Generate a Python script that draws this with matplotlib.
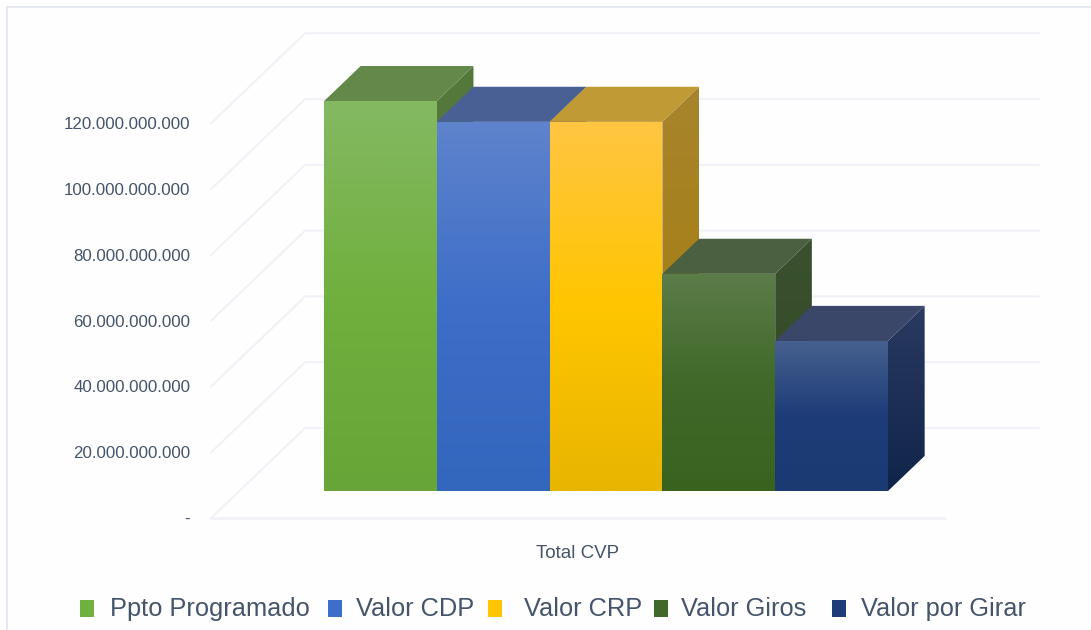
# -*- coding: utf-8 -*-
"""
Total CVP budget execution, drawn as a pseudo 3D column chart.
"""

# --IMPORTS---
import numpy as np
import matplotlib
matplotlib.use('Agg')
import matplotlib.pyplot as plt
from matplotlib.colors import LinearSegmentedColormap
from matplotlib.patches import Polygon, Rectangle

# --DATA---
categories = ['Ppto Programado', 'Valor CDP', 'Valor CRP', 'Valor Giros', 'Valor por Girar']
values = [118.5e9, 112.2e9, 112.2e9, 66.0e9, 45.6e9]
ticks = [0, 20e9, 40e9, 60e9, 80e9, 100e9, 120e9]
tickLabels = ['-', '20.000.000.000', '40.000.000.000', '60.000.000.000',
              '80.000.000.000', '100.000.000.000', '120.000.000.000']
groupLabel = 'Total CVP'

# --CONSTANTS---
W, H = 1091, 630
SLOT_PX = 112.8         # Bar width
UNIT_PX = 3.29 / 1e9    # Pixels per peso
X0_PX, Y0_PX = 324, 491 # Front bottom left bar corner
DX = 94 / SLOT_PX       # Full depth of the chart box, in x units
DY = 90 / UNIT_PX       # Full depth of the chart box, in y units
BAR_DEPTH = 0.39
WALL_LEFT, WALL_RIGHT = -0.75, 5.75
FRONT, BACK = -0.3, 0.7

GRID = '#F0F2F7'
TEXT = '#44546A'
FONT = ['Liberation Sans', 'DejaVu Sans']

# (front top, front middle, front bottom, top face, side top, side bottom)
faces = [
    ('#84B962', '#70B03E', '#68A538', '#63894A', '#55793D', '#4F7233'),
    ('#5F83CC', '#3D6EC8', '#3366BD', '#486093', '#3F5585', '#2B4C8A'),
    ('#FFC543', '#FFC600', '#E8B500', '#C09A35', '#A8842D', '#A37C04'),
    ('#5C7C49', '#40692A', '#3A621F', '#4A6040', '#3A5030', '#334A20'),
    ('#46618F', '#1E3C78', '#1B3A72', '#3A4768', '#2A3A60', '#10244A'),
]
legendSwatchX = [80, 328, 488, 654, 832]
legendTextX = [110, 356, 524, 681, 861]


# ---FUNCTIONS---


def project(x, y, depth):
    """ Shift a point of the bar plane to the given depth. """
    return x + depth * DX, y + depth * DY


def gradient_face(ax, corners, colors, zorder):
    """ Fill polygon with a vertical gradient, first color on top. """
    corners = np.array(corners)
    poly = Polygon(corners, closed=True, facecolor='none', edgecolor='none',
                   transform=ax.transData)
    ax.add_patch(poly)
    cmap = LinearSegmentedColormap.from_list('face', colors)
    extent = (corners[:, 0].min(), corners[:, 0].max(),
              corners[:, 1].min(), corners[:, 1].max())
    img = ax.imshow(np.linspace(0, 1, 256).reshape(-1, 1), cmap=cmap, extent=extent,
                    origin='upper', aspect='auto', zorder=zorder, interpolation='bilinear')
    img.set_clip_path(poly)


def draw_box(ax):
    """ Draw gridlines on the left and back walls and the floor. """
    for tick in ticks:
        front = project(WALL_LEFT, tick, FRONT)
        back = project(WALL_LEFT, tick, BACK)
        end = project(WALL_RIGHT, tick, BACK)
        ax.plot([front[0], back[0], end[0]], [front[1], back[1], end[1]],
                color=GRID, lw=1.5, zorder=1, solid_joinstyle='miter')
    front = project(WALL_LEFT, 0, FRONT)
    end = project(WALL_RIGHT, 0, FRONT)
    ax.plot([front[0], end[0]], [front[1], end[1]], color=GRID, lw=2, zorder=1)


def draw_bar(ax, i, value, colors):
    """ Draw the three visible faces of one column. """
    frontTop, frontMid, frontBottom, top, sideTop, sideBottom = colors
    left, right = i, i + 1
    backLeft = project(left, value, BAR_DEPTH)
    backRight = project(right, value, BAR_DEPTH)
    backRightBottom = project(right, 0, BAR_DEPTH)

    # The top of the next column hides the side of this one
    gradient_face(ax, [(right, value), backRight, backRightBottom, (right, 0)],
                  [sideTop, sideBottom], zorder=3)
    ax.add_patch(Polygon([(left, value), (right, value), backRight, backLeft],
                         closed=True, facecolor=top, edgecolor='none', zorder=4))
    gradient_face(ax, [(left, 0), (right, 0), (right, value), (left, value)],
                  [frontTop, frontMid, frontBottom], zorder=5)


def main():
    fig = plt.figure(figsize=(W / 100, H / 100), dpi=100, facecolor='#FEFEFE')
    ax = fig.add_axes([0, 0, 1, 1])
    ax.axis('off')

    draw_box(ax)
    for i, value in enumerate(values):
        draw_bar(ax, i, value, faces[i])

    # Axis labels
    xLabel = project(WALL_LEFT, 0, FRONT)[0] - 21 / SLOT_PX
    for tick, label in zip(ticks, tickLabels):
        yLabel = project(0, tick, FRONT)[1] - 1.5 / UNIT_PX
        ax.text(xLabel, yLabel, label, ha='right', va='center', fontsize=12.2,
                color=TEXT, family=FONT, zorder=6)
    ax.text((578 - X0_PX) / SLOT_PX, (Y0_PX - 553) / UNIT_PX, groupLabel, ha='center',
            va='center', fontsize=13.5, color=TEXT, family=FONT)

    # Legend
    for i, name in enumerate(categories):
        ax.add_patch(Rectangle(((legendSwatchX[i] - X0_PX) / SLOT_PX, (Y0_PX - 617) / UNIT_PX),
                               14 / SLOT_PX, 17 / UNIT_PX, facecolor=faces[i][1],
                               edgecolor='none', zorder=6))
        ax.text((legendTextX[i] - X0_PX) / SLOT_PX, (Y0_PX - 609) / UNIT_PX, name, ha='left',
                va='center', fontsize=18.3, color=TEXT, family=FONT)

    # Chart area border, top and left only
    ax.plot([(7 - X0_PX) / SLOT_PX, (7 - X0_PX) / SLOT_PX, (W - X0_PX) / SLOT_PX],
            [(Y0_PX - H) / UNIT_PX, (Y0_PX - 7) / UNIT_PX, (Y0_PX - 7) / UNIT_PX],
            color='#E6E9F2', lw=1.5, zorder=1)

    ax.set_xlim(-X0_PX / SLOT_PX, (W - X0_PX) / SLOT_PX)
    ax.set_ylim((Y0_PX - H) / UNIT_PX, Y0_PX / UNIT_PX)
    fig.savefig('out.png', dpi=100, facecolor=fig.get_facecolor())


# ---MAIN---
if __name__ == '__main__':
    main()
